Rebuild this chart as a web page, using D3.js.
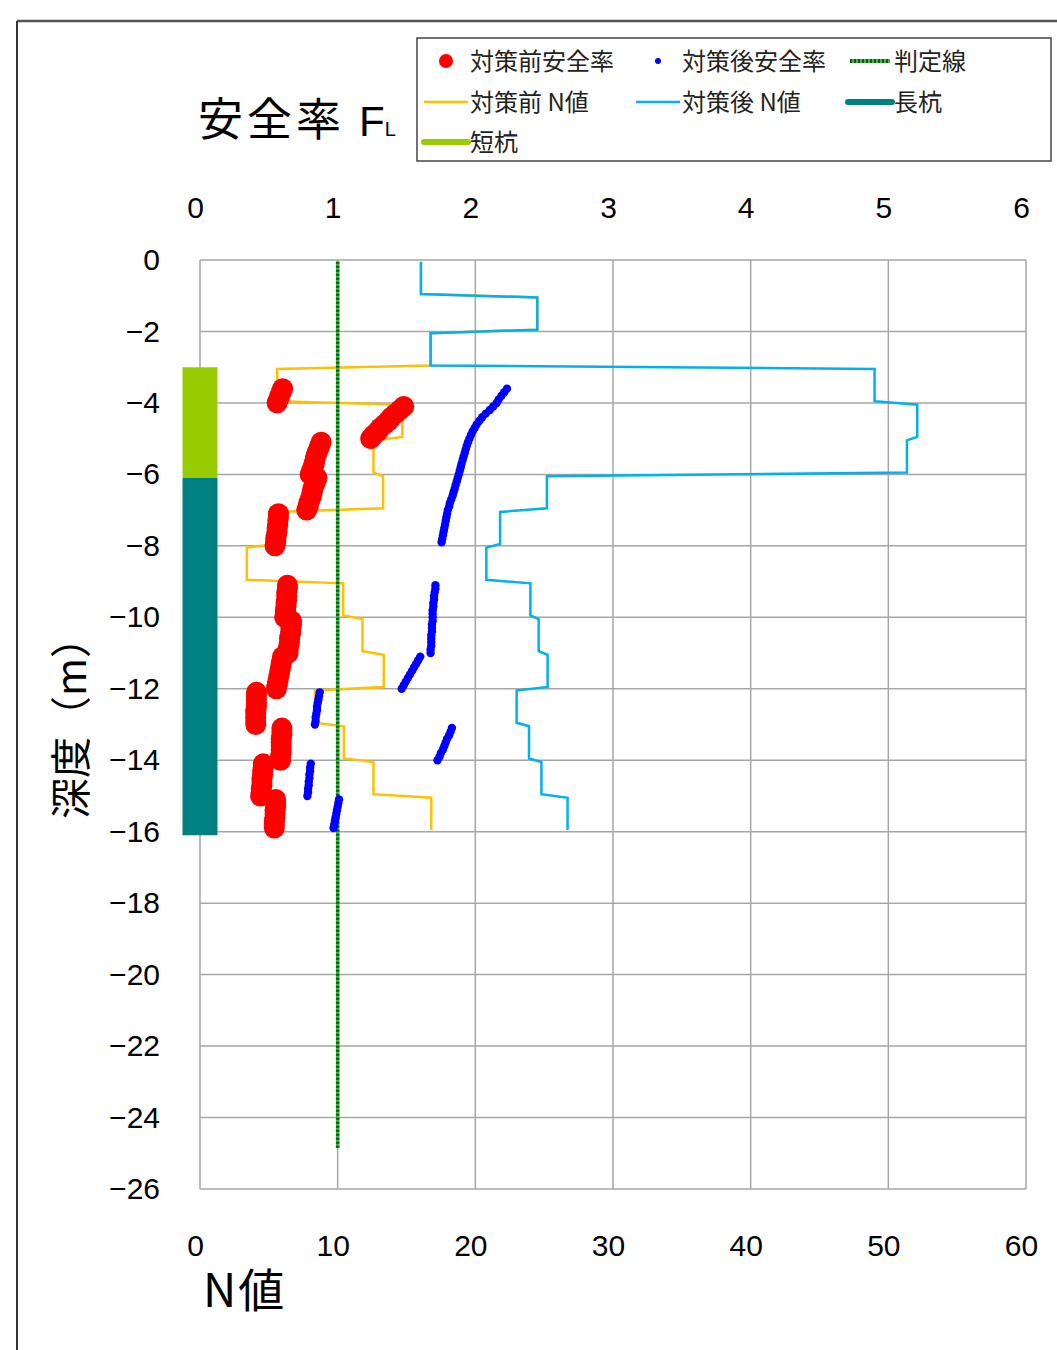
<!DOCTYPE html>
<html><head><meta charset="utf-8">
<script src="https://cdn.jsdelivr.net/npm/d3@7"></script>
<style>body{margin:0;background:#fff}</style>
</head><body><svg id="c" width="1057" height="1350"></svg>
<script>
// ---------- data ----------
const flTicks = [0,1,2,3,4,5,6];
const nTicks = [0,10,20,30,40,50,60];
const depthTicks = [0,-2,-4,-6,-8,-10,-12,-14,-16,-18,-20,-22,-24,-26];

// N-value layers (1 m each)
const layerTop = [0,-1,-2,-3,-4,-5,-6,-7,-8,-9,-10,-11,-12,-13,-14,-15];
const preN  = [16.05,24.5,16.75,5.6,14.7,12.6,13.3,5.6,3.4,10.4,11.8,13.35,8.35,10.45,12.6,16.8];
const postN = [16.05,24.5,16.75,49.0,52.1,51.35,25.2,21.8,20.8,24.0,24.6,25.25,23.0,23.9,24.8,26.7];

// safety factor before countermeasure
const preFLDepth = [
 -3.6,-3.7,-3.8,-3.9,-4.0,
 -4.1,-4.2,-4.3,-4.4,-4.5,-4.6,-4.7,-4.8,-4.9,-5.0,
 -5.1,-5.2,-5.3,-5.4,-5.5,-5.6,-5.7,-5.8,-5.9,-6.0,
 -6.1,-6.2,-6.3,-6.4,-6.5,-6.6,-6.7,-6.8,-6.9,-7.0,
 -7.1,-7.2,-7.3,-7.4,-7.5,-7.6,-7.7,-7.8,-7.9,-8.0,
 -9.1,-9.2,-9.3,-9.4,-9.5,-9.6,-9.7,-9.8,-9.9,-10.0,
 -10.1,-10.2,-10.3,-10.4,-10.5,-10.6,-10.7,-10.8,-10.9,-11.0,
 -11.1,-11.2,-11.3,-11.4,-11.5,-11.6,-11.7,-11.8,-11.9,-12.0,
 -12.1,-12.2,-12.3,-12.4,-12.5,-12.6,-12.7,-12.8,-12.9,-13.0,
 -13.1,-13.2,-13.3,-13.4,-13.5,-13.6,-13.7,-13.8,-13.9,-14.0,
 -14.1,-14.2,-14.3,-14.4,-14.5,-14.6,-14.7,-14.8,-14.9,-15.0,
 -15.1,-15.2,-15.3,-15.4,-15.5,-15.6,-15.7,-15.8,-15.9];
const preFL = [
 0.60,0.59,0.58,0.57,0.56,
 1.48,1.45,1.42,1.39,1.37,1.34,1.31,1.29,1.26,1.24,
 0.88,0.87,0.86,0.85,0.84,0.835,0.83,0.82,0.81,0.80,
 0.85,0.84,0.83,0.82,0.815,0.81,0.80,0.79,0.785,0.775,
 0.57,0.57,0.565,0.565,0.56,0.56,0.555,0.55,0.55,0.545,
 0.635,0.635,0.63,0.63,0.63,0.625,0.625,0.62,0.62,0.615,
 0.665,0.665,0.66,0.66,0.655,0.65,0.65,0.645,0.64,0.64,
 0.60,0.595,0.59,0.585,0.58,0.575,0.57,0.565,0.56,0.555,
 0.41,0.41,0.41,0.41,0.41,0.405,0.405,0.405,0.405,0.405,
 0.595,0.595,0.595,0.59,0.59,0.59,0.59,0.59,0.585,0.585,
 0.46,0.46,0.455,0.455,0.45,0.45,0.45,0.445,0.445,0.44,
 0.55,0.55,0.55,0.545,0.545,0.545,0.54,0.54,0.54];

// safety factor after countermeasure
const postFLDepth = [
 -3.6,-3.7,-3.8,-3.9,-4.0,-4.1,-4.2,-4.3,-4.4,-4.5,-4.6,-4.7,-4.8,-4.9,-5.0,
 -5.1,-5.2,-5.3,-5.4,-5.5,-5.6,-5.7,-5.8,-5.9,-6.0,-6.1,-6.2,-6.3,-6.4,-6.5,
 -6.6,-6.7,-6.8,-6.9,-7.0,-7.1,-7.2,-7.3,-7.4,-7.5,-7.6,-7.7,-7.8,-7.9,
 -9.1,-9.2,-9.3,-9.4,-9.5,-9.6,-9.7,-9.8,-9.9,-10.0,
 -10.1,-10.2,-10.3,-10.4,-10.5,-10.6,-10.7,-10.8,-10.9,-11.0,
 -11.1,-11.2,-11.3,-11.4,-11.5,-11.6,-11.7,-11.8,-11.9,-12.0,
 -12.1,-12.2,-12.3,-12.4,-12.5,-12.6,-12.7,-12.8,-12.9,-13.0,
 -13.1,-13.2,-13.3,-13.4,-13.5,-13.6,-13.7,-13.8,-13.9,-14.0,
 -14.1,-14.2,-14.3,-14.4,-14.5,-14.6,-14.7,-14.8,-14.9,-15.0,
 -15.1,-15.2,-15.3,-15.4,-15.5,-15.6,-15.7,-15.8,-15.9];
const postFL = [
 2.23,2.21,2.19,2.17,2.155,2.13,2.105,2.075,2.05,2.03,2.01,1.995,1.98,1.968,1.957,
 1.947,1.938,1.93,1.923,1.915,1.908,1.90,1.894,1.887,1.88,1.872,1.865,1.857,1.85,1.842,
 1.835,1.825,1.815,1.81,1.80,1.795,1.79,1.785,1.78,1.775,1.77,1.765,1.76,1.755,
 1.71,1.71,1.705,1.70,1.70,1.695,1.695,1.69,1.69,1.69,
 1.69,1.685,1.685,1.685,1.68,1.68,1.68,1.68,1.675,1.675,
 1.60,1.585,1.57,1.555,1.54,1.525,1.51,1.495,1.48,1.465,
 0.87,0.865,0.86,0.855,0.85,0.85,0.845,0.84,0.84,0.835,
 1.83,1.82,1.81,1.795,1.785,1.775,1.765,1.75,1.74,1.725,
 0.805,0.80,0.80,0.795,0.795,0.79,0.79,0.785,0.785,0.78,
 1.01,1.005,1.0,0.995,0.99,0.985,0.98,0.975,0.97];

// judgement line FL = 1
const judgeFL = [1, 1];
const judgeDepth = [-0.05, -24.85];
// piles (drawn at N = 0)
const shortPileDepth = [-3.0, -6.1];
const longPileDepth = [-6.1, -16.1];

const legendItems = [
  {label:"対策前安全率", kind:"dot", color:"#ff0000", r:7},
  {label:"対策後安全率", kind:"dot", color:"#0000ff", r:3},
  {label:"判定線", kind:"dotted", color:"#008000", w:4},
  {label:"対策前 N値", kind:"line", color:"#ffc000", w:2.5},
  {label:"対策後 N値", kind:"line", color:"#00b0f0", w:2.5},
  {label:"長杭", kind:"line", color:"#008080", w:6},
  {label:"短杭", kind:"line", color:"#99cc00", w:6}
];

// ---------- chart ----------
const svg = d3.select("#c");
const L = 200, R = 1026, T = 260, B = 1189;
const xN = d3.scaleLinear().domain([0,60]).range([L,R]);
const xFL = d3.scaleLinear().domain([0,6]).range([L,R]);
const y = d3.scaleLinear().domain([0,-26]).range([T,B]);
const numFont = "'Liberation Sans', Arial, sans-serif";
const cjkFont = "'Noto Sans CJK JP', 'Noto Sans', sans-serif";

// outer frame
svg.append("line").attr("x1",17).attr("x2",1057).attr("y1",21).attr("y2",21).attr("stroke","#555").attr("stroke-width",2.5);
svg.append("line").attr("x1",17).attr("x2",17).attr("y1",21).attr("y2",1350).attr("stroke","#333").attr("stroke-width",2);

// grid
const grid = svg.append("g");
grid.selectAll("line.v").data(nTicks).join("line")
  .attr("x1",d=>xN(d)).attr("x2",d=>xN(d)).attr("y1",T).attr("y2",B)
  .attr("stroke","#a6a6a6").attr("stroke-width",1.5);
grid.selectAll("line.h").data(depthTicks).join("line")
  .attr("y1",d=>y(d)).attr("y2",d=>y(d)).attr("x1",L).attr("x2",R)
  .attr("stroke","#a6a6a6").attr("stroke-width",1.5);

// axes
function styleAxis(g){
  g.select(".domain").remove();
  g.selectAll("line").remove();
  g.selectAll("text").attr("font-family",numFont).attr("font-size",30).attr("fill","#000");
}
svg.append("g").attr("transform",`translate(0,${T})`)
  .call(d3.axisTop(xFL).tickValues(flTicks).tickSize(0).tickPadding(42).tickFormat(d3.format("d")))
  .call(styleAxis).selectAll("text").attr("dx",-5);
svg.append("g").attr("transform",`translate(0,${B})`)
  .call(d3.axisBottom(xN).tickValues(nTicks).tickSize(0).tickPadding(46).tickFormat(d3.format("d")))
  .call(styleAxis).selectAll("text").attr("dx",-5);
svg.append("g").attr("transform",`translate(${L},0)`)
  .call(d3.axisLeft(y).tickValues(depthTicks).tickSize(0).tickPadding(40).tickFormat(d3.format("d")))
  .call(styleAxis);

// titles
const t1 = svg.append("text").attr("x",198).attr("y",136).attr("font-family",cjkFont).attr("font-size",45).attr("fill","#000");
t1.append("tspan").attr("letter-spacing",4).text("安全率 ");
t1.append("tspan").attr("font-family",numFont).attr("font-size",42).text("F");
t1.append("tspan").attr("font-family",numFont).attr("font-size",20).text("L");
svg.append("text").attr("x",203).attr("y",1307).attr("font-family",cjkFont).attr("font-size",46).attr("letter-spacing",2).attr("fill","#000").text("N値");
svg.append("text").attr("transform","translate(86,718) rotate(-90)").attr("text-anchor","middle")
  .attr("font-family",cjkFont).attr("font-size",41).attr("fill","#000").text("深度（m）");

// piles
const pileLine = d3.line().x(d=>xN(0)).y(d=>y(d));
svg.append("path").attr("d",pileLine(shortPileDepth)).attr("stroke","#99cc00").attr("stroke-width",35).attr("fill","none");
svg.append("path").attr("d",pileLine(longPileDepth)).attr("stroke","#008080").attr("stroke-width",35).attr("fill","none");

// N lines as steps
function stepPoints(vals){
  const pts = [];
  vals.forEach((v,i)=>{ pts.push([v, layerTop[i]-0.05]); pts.push([v, layerTop[i]-0.95]); });
  return pts;
}
const nLine = d3.line().x(d=>xN(d[0])).y(d=>y(d[1]));
svg.append("path").attr("d",nLine(stepPoints(preN))).attr("stroke","#ffc000").attr("stroke-width",2.5).attr("fill","none");
svg.append("path").attr("d",nLine(stepPoints(postN))).attr("stroke","#00b0f0").attr("stroke-width",2.5).attr("fill","none");

// judgement line
const jPts = judgeDepth.map((d,i)=>[judgeFL[i], d]);
const jLine = d3.line().x(d=>xFL(d[0])).y(d=>y(d[1]));
svg.append("path").attr("d",jLine(jPts)).attr("stroke","#4caf50").attr("stroke-width",3.5).attr("fill","none");
svg.append("path").attr("d",jLine(jPts)).attr("stroke","#006400").attr("stroke-width",3.5).attr("stroke-dasharray","2,2").attr("fill","none");

// safety factor points
svg.append("g").selectAll("circle").data(preFL).join("circle")
  .attr("cx",d=>xFL(d)).attr("cy",(d,i)=>y(preFLDepth[i])).attr("r",10.5).attr("fill","#ff0000");
svg.append("g").selectAll("circle").data(postFL).join("circle")
  .attr("cx",d=>xFL(d)).attr("cy",(d,i)=>y(postFLDepth[i])).attr("r",4.2).attr("fill","#0000ff");

// legend
const lg = svg.append("g");
lg.append("rect").attr("x",417).attr("y",38).attr("width",634).attr("height",123)
  .attr("fill","#fff").attr("stroke","#444").attr("stroke-width",1.5);
const colX = [424, 636, 848];
const rowY = [61, 102, 142];
legendItems.forEach((it,i)=>{
  const cx = colX[i%3], cy = rowY[Math.floor(i/3)];
  const g = lg.append("g");
  if(it.kind==="dot"){
    g.append("circle").attr("cx",cx+22).attr("cy",cy).attr("r",it.r).attr("fill",it.color);
  } else if(it.kind==="dotted"){
    g.append("line").attr("x1",cx+2).attr("x2",cx+42).attr("y1",cy).attr("y2",cy).attr("stroke","#4caf50").attr("stroke-width",it.w);
    g.append("line").attr("x1",cx+2).attr("x2",cx+42).attr("y1",cy).attr("y2",cy).attr("stroke","#006400").attr("stroke-width",it.w).attr("stroke-dasharray","2,2");
  } else {
    g.append("line").attr("x1",cx).attr("x2",cx+44).attr("y1",cy).attr("y2",cy).attr("stroke",it.color).attr("stroke-width",it.w).attr("stroke-linecap",it.w>4?"round":"butt");
  }
  g.append("text").attr("x",cx+46).attr("y",cy+9).attr("font-family",cjkFont).attr("font-size",24).attr("fill","#222").text(it.label);
});
</script>
</body></html>
